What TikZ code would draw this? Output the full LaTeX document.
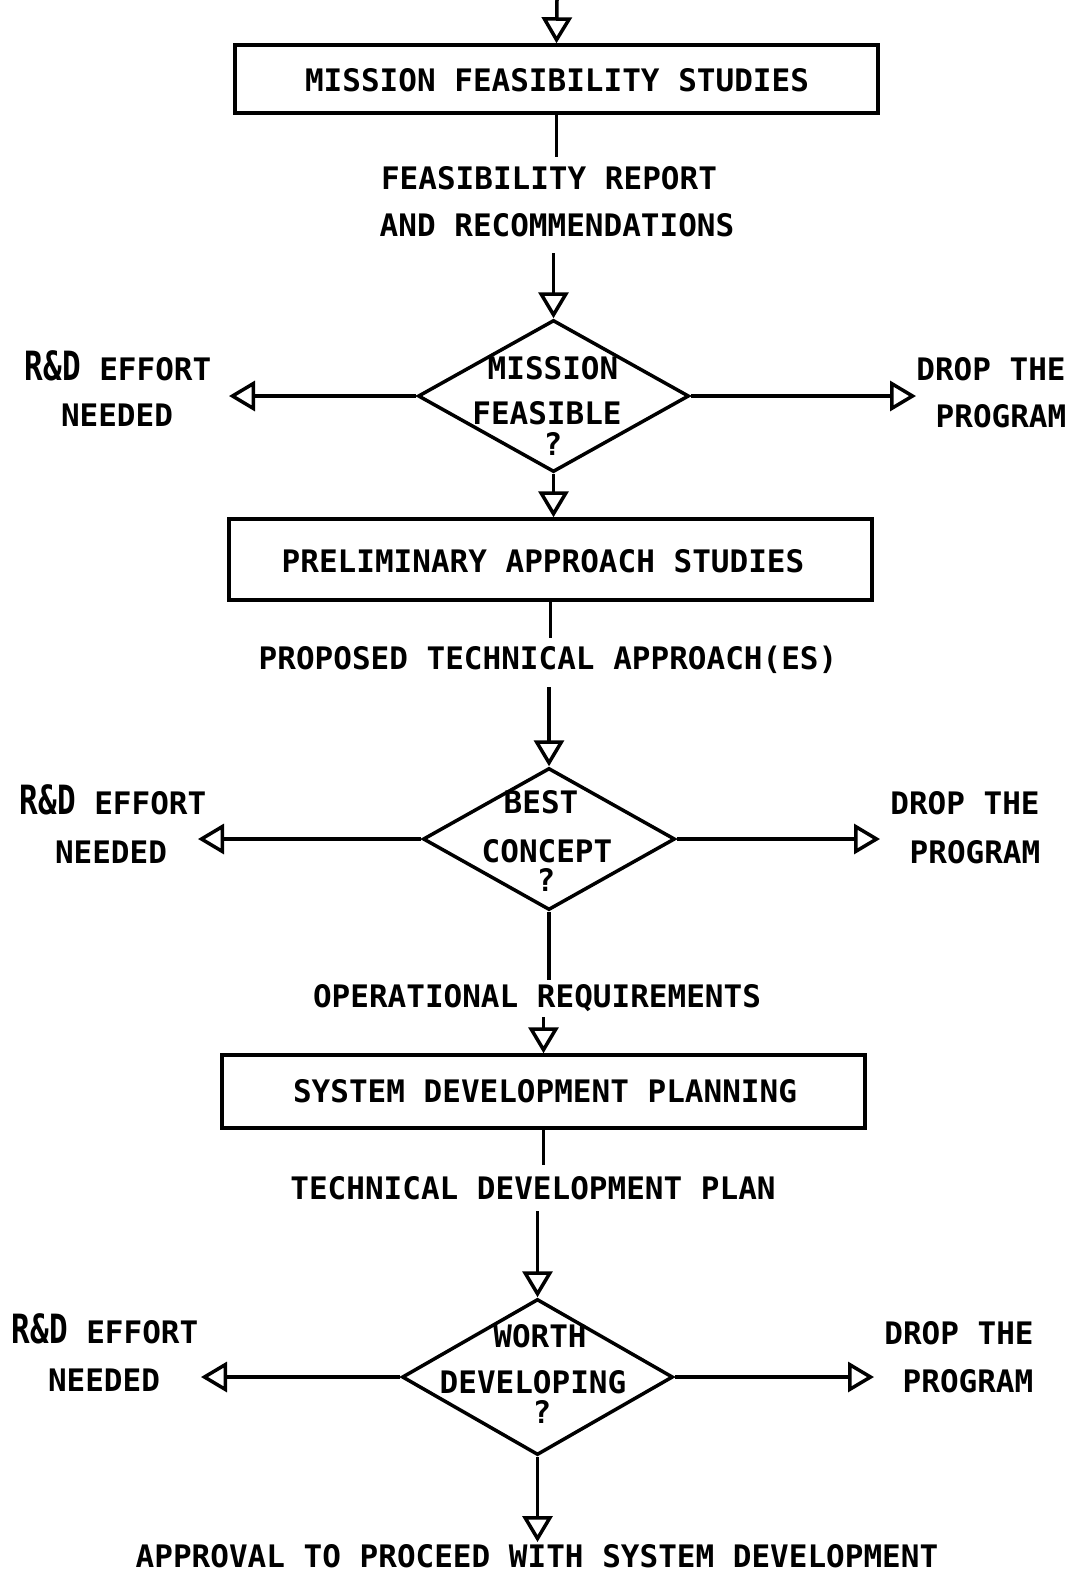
\documentclass[tikz,border=0pt]{standalone}
\usepackage{fontspec}
\usepackage{graphicx}
\setmonofont{DejaVu Sans Mono}
\usetikzlibrary{arrows.meta,shapes.geometric}

% taller R&D lettering, same advance width
\newcommand{\rdtag}{\scalebox{1}[1.3]{R\&D}}

\tikzset{
  lbl/.style={font=\ttfamily\bfseries\fontsize{31}{34}\selectfont, inner sep=0pt,
              text height=22pt, text depth=0pt, anchor=center},
  stepbox/.style={draw, line width=3.5pt, rectangle, inner sep=0pt},
  decision/.style={draw, line width=3.5pt, diamond, inner sep=0pt, aspect=1},
  link/.style={line width=3.5pt},
  arr/.style={line width=3.5pt, -{Triangle[open, length=26pt, width=30pt, line width=3.5pt]}},
}

\begin{document}
\begin{tikzpicture}[x=1pt, y=-1pt]
  \useasboundingbox (0,0) rectangle (1071,1575);

  % ---- process boxes ----
  \node[stepbox, minimum width=643pt, minimum height=68pt] (b1) at (556.5,79) {};
  \node[stepbox, minimum width=643pt, minimum height=81pt] (b2) at (550.5,559.5) {};
  \node[stepbox, minimum width=643pt, minimum height=73pt] (b3) at (543.5,1091.5) {};

  \node[lbl] (t1) at (557,80) {MISSION FEASIBILITY STUDIES};
  \node[lbl] (t2) at (543,561) {PRELIMINARY APPROACH STUDIES};
  \node[lbl] (t3) at (545,1091) {SYSTEM DEVELOPMENT PLANNING};

  % ---- decisions ----
  \node[decision, minimum width=271pt, minimum height=152pt] (d1) at (553.5,396) {};
  \node[decision, minimum width=252pt, minimum height=142pt] (d2) at (549,839) {};
  \node[decision, minimum width=271pt, minimum height=156pt] (d3) at (537.5,1377) {};

  \node[lbl] (q1a) at (553,368) {MISSION};
  \node[lbl] (q1b) at (547,413) {FEASIBLE};
  \node[lbl] (q1c) at (553,444) {?};

  \node[lbl] (q2a) at (541,802) {BEST};
  \node[lbl] (q2b) at (547,851) {CONCEPT};
  \node[lbl] (q2c) at (546,880) {?};

  \node[lbl] (q3a) at (540,1336) {WORTH};
  \node[lbl] (q3b) at (533,1382) {DEVELOPING};
  \node[lbl] (q3c) at (542,1412) {?};

  % ---- flow labels ----
  \node[lbl] (f1a) at (549,178) {FEASIBILITY REPORT};
  \node[lbl] (f1b) at (557,225) {AND RECOMMENDATIONS};
  \node[lbl] (f2)  at (548,658) {PROPOSED TECHNICAL APPROACH(ES)};
  \node[lbl] (f3)  at (537,996) {OPERATIONAL REQUIREMENTS};
  \node[lbl] (f4)  at (533,1188) {TECHNICAL DEVELOPMENT PLAN};
  \node[lbl] (f5)  at (537,1556) {APPROVAL TO PROCEED WITH SYSTEM DEVELOPMENT};

  % ---- side outcomes ----
  \node[lbl] (rd1a) at (118,369) {\rdtag{} EFFORT};
  \node[lbl] (rd1b) at (117,415) {NEEDED};
  \node[lbl] (dp1a) at (991,369) {DROP THE};
  \node[lbl] (dp1b) at (1001,416) {PROGRAM};

  \node[lbl] (rd2a) at (113,803) {\rdtag{} EFFORT};
  \node[lbl] (rd2b) at (111,852) {NEEDED};
  \node[lbl] (dp2a) at (965,803) {DROP THE};
  \node[lbl] (dp2b) at (975,852) {PROGRAM};

  \node[lbl] (rd3a) at (105,1332) {\rdtag{} EFFORT};
  \node[lbl] (rd3b) at (104,1380) {NEEDED};
  \node[lbl] (dp3a) at (959,1333) {DROP THE};
  \node[lbl] (dp3b) at (968,1381) {PROGRAM};

  % ---- connector end points ----
  \coordinate (entry) at (557,0);
  \coordinate (s1) at (556.5,157);
  \coordinate (s1b) at (553.5,253);
  \coordinate (s2) at (550.5,638);
  \coordinate (s2b) at (549,687);
  \coordinate (s3) at (549,980);
  \coordinate (s3b) at (543.5,1017);
  \coordinate (s4) at (543.5,1165);
  \coordinate (s4b) at (537.5,1211);
  \coordinate (exit) at (537.5,1542);
  \coordinate (l1) at (229,396);
  \coordinate (r1) at (916,396);
  \coordinate (l2) at (198,839);
  \coordinate (r2) at (880,839);
  \coordinate (l3) at (201,1377);
  \coordinate (r3) at (874,1377);

  % ---- main flow ----
  \draw[arr] (entry) -- (b1.north);
  \draw[link] (b1.south) -- (s1);
  \draw[arr] (s1b) -- (d1.north);
  \draw[arr] (d1.south) -- (d1.south |- b2.north);
  \draw[link] (b2.south) -- (s2);
  \draw[arr] (s2b) -- (d2.north);
  \draw[link] (d2.south) -- (s3);
  \draw[arr] (s3b) -- (b3.north);
  \draw[link] (b3.south) -- (s4);
  \draw[arr] (s4b) -- (d3.north);
  \draw[arr] (d3.south) -- (exit);

  % ---- side branches ----
  \draw[arr] (d1.west) -- (l1);
  \draw[arr] (d1.east) -- (r1);
  \draw[arr] (d2.west) -- (l2);
  \draw[arr] (d2.east) -- (r2);
  \draw[arr] (d3.west) -- (l3);
  \draw[arr] (d3.east) -- (r3);
\end{tikzpicture}
\end{document}
